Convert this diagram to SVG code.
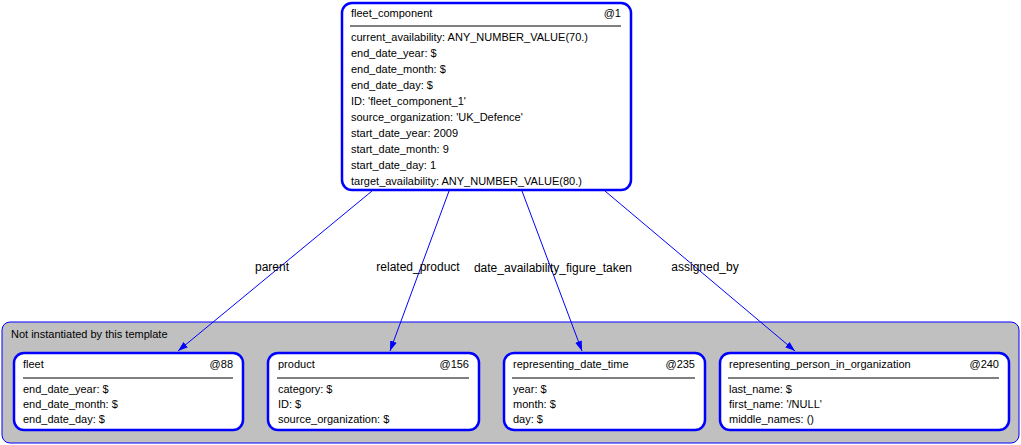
<svg xmlns="http://www.w3.org/2000/svg" width="1021" height="445" viewBox="0 0 1021 445">
<style>
text{font-family:"Liberation Sans",Arial,sans-serif;font-size:11px;fill:#000}
.n{fill:#fff;stroke:#0000ff;stroke-width:2.5}
.sep{stroke:#000;stroke-width:1}
.e{stroke:#0000ff;stroke-width:1;fill:none;marker-end:url(#a)}
.r{text-anchor:end}
.l{font-size:12px;text-anchor:middle}
</style>
<defs><marker id="a" viewBox="0 0 10 10" refX="10" refY="5" markerWidth="10" markerHeight="10" markerUnits="userSpaceOnUse" orient="auto"><path d="M0,1.5L10,5L0,8.5z" fill="#0000ff"/></marker></defs>
<rect x="2" y="322" width="1017" height="121" rx="8" fill="#c0c0c0" stroke="#0000ff" stroke-width="1"/>
<text x="11" y="338">Not instantiated by this template</text>
<g id="fleet_component">
<rect class="n" x="342" y="3" width="289" height="187" rx="10"/>
<text x="351" y="17">fleet_component</text><text class="r" x="621" y="17">@1</text>
<line class="sep" x1="350" y1="26" x2="621" y2="26"/>
<text x="351" y="41">current_availability: ANY_NUMBER_VALUE(70.)</text>
<text x="351" y="57">end_date_year: $</text>
<text x="351" y="73">end_date_month: $</text>
<text x="351" y="89">end_date_day: $</text>
<text x="351" y="105">ID: 'fleet_component_1'</text>
<text x="351" y="121">source_organization: 'UK_Defence'</text>
<text x="351" y="137">start_date_year: 2009</text>
<text x="351" y="153">start_date_month: 9</text>
<text x="351" y="169">start_date_day: 1</text>
<text x="351" y="185">target_availability: ANY_NUMBER_VALUE(80.)</text>
</g>
<g id="fleet">
<rect class="n" x="14" y="353" width="229" height="77" rx="10"/>
<text x="23" y="368">fleet</text><text class="r" x="233" y="368">@88</text>
<line class="sep" x1="23" y1="378" x2="233" y2="378"/>
<text x="23" y="393">end_date_year: $</text>
<text x="23" y="408">end_date_month: $</text>
<text x="23" y="423">end_date_day: $</text>
</g>
<g id="product">
<rect class="n" x="268" y="353" width="211" height="77" rx="10"/>
<text x="278" y="368">product</text><text class="r" x="469" y="368">@156</text>
<line class="sep" x1="277" y1="378" x2="469" y2="378"/>
<text x="278" y="393">category: $</text>
<text x="278" y="408">ID: $</text>
<text x="278" y="423">source_organization: $</text>
</g>
<g id="representing_date_time">
<rect class="n" x="504" y="353" width="201" height="77" rx="10"/>
<text x="513" y="368">representing_date_time</text><text class="r" x="695" y="368">@235</text>
<line class="sep" x1="512" y1="378" x2="695" y2="378"/>
<text x="513" y="393">year: $</text>
<text x="513" y="408">month: $</text>
<text x="513" y="423">day: $</text>
</g>
<g id="representing_person_in_organization">
<rect class="n" x="720" y="353" width="289" height="77" rx="10"/>
<text x="729" y="368">representing_person_in_organization</text><text class="r" x="999" y="368">@240</text>
<line class="sep" x1="728" y1="378" x2="999" y2="378"/>
<text x="729" y="393">last_name: $</text>
<text x="729" y="408">first_name: '/NULL'</text>
<text x="729" y="423">middle_names: ()</text>
</g>
<g id="connectors">
<line class="e" x1="372" y1="191" x2="178" y2="351"/>
<line class="e" x1="449" y1="191" x2="390" y2="351"/>
<line class="e" x1="522" y1="191" x2="582" y2="351"/>
<line class="e" x1="605" y1="191" x2="795" y2="351"/>
<text class="l" x="272" y="271">parent</text>
<text class="l" x="418" y="271">related_product</text>
<text class="l" x="553" y="272">date_availability_figure_taken</text>
<text class="l" x="705" y="271">assigned_by</text>
</g>
</svg>
